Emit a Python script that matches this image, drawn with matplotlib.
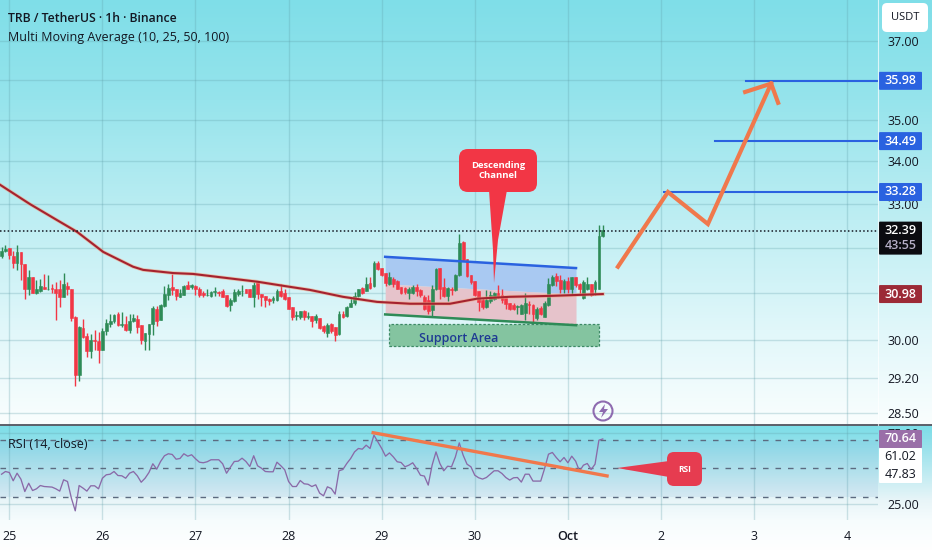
import numpy as np
import matplotlib
matplotlib.use("Agg")
import matplotlib.pyplot as plt
from matplotlib.patches import FancyBboxPatch, Polygon, Circle, Rectangle
from matplotlib.ticker import NullLocator, NullFormatter

plt.rcParams["font.family"] = ["Open Sans", "DejaVu Sans"]

# hourly candles, first one two hours before midnight of the 25th
first_hour = -2
candle_open = [
    31.81, 31.92, 31.99, 31.82, 31.66, 31.90, 31.64, 31.09, 31.35, 31.00, 31.05, 31.14, 31.08,
    31.11, 31.09, 31.10, 30.91, 31.16, 31.09, 30.48, 29.27, 30.26, 30.08, 29.76, 29.99, 29.97,
    29.79, 30.19, 30.34, 30.39, 30.54, 30.32, 30.34, 30.21, 30.39, 30.45, 30.32, 29.97, 30.13,
    30.34, 30.66, 30.43, 30.72, 30.95, 31.14, 31.09, 30.92, 30.97, 31.18, 31.14, 31.16, 31.10,
    31.00, 30.95, 30.94, 31.02, 31.02, 31.05, 30.95, 30.74, 30.82, 30.98, 31.04, 31.10, 31.08,
    30.91, 31.25, 30.98, 30.94, 30.88, 30.85, 30.85, 31.05, 31.01, 30.91, 30.70, 30.50, 30.48,
    30.62, 30.48, 30.51, 30.43, 30.46, 30.29, 30.15, 30.34, 30.28, 30.13, 30.55, 30.50, 30.70,
    30.78, 30.94, 31.12, 31.05, 31.23, 31.15, 31.67, 31.56, 31.44, 31.21, 31.30, 31.27, 31.14,
    31.12, 31.01, 31.01, 31.14, 31.07, 30.91, 30.85, 30.64, 31.10, 31.55, 31.14, 30.94, 31.10,
    31.07, 31.40, 32.14, 31.75, 31.39, 31.27, 31.05, 30.85, 30.70, 30.82, 30.87, 31.01, 30.96,
    30.89, 30.78, 30.75, 30.70, 30.56, 30.58, 30.77, 30.74, 30.46, 30.68, 30.49, 30.74, 31.18,
    31.38, 31.29, 31.10, 31.27, 31.08, 31.35, 31.20, 30.89, 31.08, 31.20, 31.10, 31.10, 32.26,
]
candle_high = [
    32.02, 32.07, 31.99, 31.92, 32.07, 31.90, 31.64, 31.51, 31.35, 31.29, 31.30, 31.42, 31.40,
    31.21, 31.25, 31.29, 31.45, 31.24, 31.09, 30.50, 30.29, 30.45, 30.14, 30.13, 30.20, 30.16,
    30.25, 30.45, 30.56, 30.55, 30.60, 30.60, 30.50, 30.54, 30.56, 30.52, 30.32, 30.14, 30.34,
    30.72, 30.72, 30.77, 31.15, 31.20, 31.42, 31.09, 31.10, 31.18, 31.26, 31.20, 31.18, 31.14,
    31.05, 31.10, 31.05, 31.14, 31.04, 31.10, 30.95, 30.89, 31.08, 31.08, 31.18, 31.10, 31.08,
    31.25, 31.27, 30.98, 30.94, 30.89, 30.94, 31.08, 31.21, 31.10, 30.91, 30.70, 30.62, 30.62,
    30.64, 30.60, 30.51, 30.55, 30.46, 30.32, 30.35, 30.35, 30.28, 30.62, 30.62, 30.72, 30.89,
    31.03, 31.10, 31.14, 31.35, 31.35, 31.70, 31.70, 31.56, 31.45, 31.47, 31.36, 31.29, 31.14,
    31.14, 31.14, 31.18, 31.21, 31.10, 30.96, 30.96, 31.18, 31.55, 31.56, 31.33, 31.14, 31.14,
    31.42, 32.32, 32.15, 31.75, 31.40, 31.27, 31.05, 30.89, 31.07, 31.05, 31.03, 31.18, 31.10,
    30.89, 30.79, 30.78, 30.75, 30.77, 31.00, 30.82, 30.77, 30.70, 30.72, 30.82, 31.33, 31.40,
    31.44, 31.40, 31.30, 31.36, 31.36, 31.36, 31.23, 31.29, 31.35, 31.20, 31.29, 32.52, 32.52,
]
candle_low = [
    31.78, 31.90, 31.75, 31.55, 31.51, 31.29, 30.87, 30.96, 31.00, 30.98, 31.03, 31.08, 31.07,
    31.01, 30.43, 30.70, 30.91, 30.96, 30.40, 29.04, 29.15, 30.04, 29.65, 29.63, 29.78, 29.51,
    29.78, 30.10, 30.28, 30.36, 30.29, 30.28, 30.19, 30.15, 30.37, 30.15, 29.91, 29.79, 29.79,
    30.10, 30.29, 30.42, 30.71, 30.85, 30.96, 30.85, 30.91, 30.96, 31.08, 31.08, 30.96, 30.91,
    30.91, 30.93, 30.92, 30.94, 30.94, 30.91, 30.71, 30.62, 30.81, 30.94, 30.94, 31.01, 30.91,
    30.71, 30.87, 30.72, 30.71, 30.74, 30.78, 30.83, 30.91, 30.85, 30.65, 30.42, 30.43, 30.45,
    30.43, 30.45, 30.28, 30.35, 30.23, 30.15, 30.07, 30.14, 29.97, 30.10, 30.46, 30.49, 30.70,
    30.74, 30.91, 30.98, 31.04, 31.10, 31.14, 31.51, 31.38, 31.15, 31.18, 31.14, 31.09, 30.98,
    30.98, 30.87, 30.98, 30.94, 30.91, 30.64, 30.56, 30.50, 31.07, 30.87, 30.92, 30.84, 30.96,
    31.05, 31.38, 31.72, 31.36, 31.21, 30.94, 30.62, 30.65, 30.68, 30.78, 30.85, 30.89, 30.78,
    30.65, 30.64, 30.64, 30.55, 30.54, 30.43, 30.55, 30.20, 30.43, 30.53, 30.48, 30.72, 31.15,
    31.15, 31.00, 31.00, 31.00, 30.96, 31.14, 30.96, 30.87, 31.07, 30.94, 30.96, 31.08, 32.24,
]
candle_close = [
    31.94, 31.98, 31.83, 31.66, 31.90, 31.64, 31.09, 31.35, 31.00, 31.08, 31.16, 31.08, 31.09,
    31.10, 31.00, 30.92, 31.19, 31.10, 30.46, 29.27, 30.28, 30.05, 29.76, 29.99, 29.97, 29.79,
    30.19, 30.36, 30.41, 30.53, 30.31, 30.34, 30.21, 30.41, 30.46, 30.28, 29.99, 30.14, 30.34,
    30.68, 30.41, 30.74, 30.98, 31.11, 31.07, 30.94, 31.00, 31.16, 31.10, 31.17, 31.08, 30.96,
    30.97, 30.96, 31.03, 31.04, 31.00, 30.92, 30.73, 30.85, 31.03, 31.04, 31.05, 31.01, 30.91,
    31.18, 30.98, 30.92, 30.85, 30.84, 30.89, 31.05, 30.94, 30.87, 30.66, 30.49, 30.52, 30.62,
    30.49, 30.51, 30.41, 30.50, 30.25, 30.18, 30.32, 30.18, 30.10, 30.55, 30.49, 30.70, 30.78,
    30.94, 31.09, 31.00, 31.21, 31.12, 31.66, 31.52, 31.40, 31.23, 31.35, 31.21, 31.10, 31.00,
    31.03, 31.10, 31.14, 31.05, 30.96, 30.65, 30.62, 31.10, 31.52, 31.10, 30.94, 31.12, 31.07,
    31.40, 32.12, 31.73, 31.38, 31.25, 30.96, 30.80, 30.71, 30.85, 30.96, 31.01, 30.91, 30.85,
    30.77, 30.65, 30.65, 30.72, 30.74, 30.78, 30.74, 30.56, 30.65, 30.55, 30.79, 31.21, 31.36,
    31.27, 31.10, 31.26, 31.08, 31.35, 31.18, 31.10, 31.25, 31.21, 30.96, 31.25, 32.26, 32.41,
]

# slow moving average, read at a few hours
ma_hours = [-2.4, 5.3, 12.3, 17.5, 24.2, 31.9, 34.5, 42.2, 47.4, 56.1, 63.9, 70.6, 77.5, 86,
            94.8, 103.3, 113.6, 120.6, 129, 139.4, 146.4, 153]
ma_values = [33.45, 33.00, 32.63, 32.36, 31.91, 31.58, 31.51, 31.44, 31.42, 31.33, 31.25, 31.16,
             31.07, 30.92, 30.81, 30.77, 30.77, 30.88, 30.92, 30.94, 30.96, 30.98]

rsi_values = [
    46.0, 47.9, 47.2, 41.4, 46.7, 42.5, 33.9, 39.7, 34.6, 35.8, 38.1, 37.4, 37.2, 37.0, 35.8, 34.2,
    42.1, 40.9, 29.3, 20.4, 38.1, 36.3, 34.2, 37.9, 37.9, 35.8, 43.2, 45.6, 46.0, 47.9, 45.1, 44.9,
    43.2, 46.7, 47.9, 44.9, 40.4, 43.2, 47.2, 53.3, 49.5, 54.9, 58.9, 60.3, 59.8, 56.5, 57.0, 60.3,
    58.6, 59.6, 56.8, 54.4, 54.0, 54.7, 56.1, 56.1, 56.1, 53.3, 46.7, 50.9, 54.9, 55.1, 57.2, 54.9,
    51.4, 58.9, 51.9, 50.2, 47.9, 47.7, 47.7, 54.4, 51.9, 49.1, 40.9, 37.4, 37.4, 41.6, 39.3, 39.0,
    37.4, 38.6, 32.8, 30.9, 37.2, 36.0, 32.1, 48.4, 49.3, 53.5, 57.0, 61.6, 64.0, 63.5, 66.3, 64.0,
    73.3, 68.6, 64.0, 58.6, 60.9, 58.1, 54.7, 54.2, 51.2, 52.3, 54.0, 50.0, 45.3, 44.7, 38.4, 52.3,
    61.6, 53.5, 48.4, 51.6, 51.2, 58.1, 67.9, 59.3, 53.0, 51.2, 45.3, 43.5, 42.6, 43.7, 46.0, 48.4,
    48.4, 46.5, 43.7, 41.9, 43.5, 43.7, 40.5, 46.0, 46.0, 41.2, 41.2, 41.2, 50.0, 60.0, 61.2, 57.7,
    54.7, 57.7, 54.0, 58.6, 55.1, 48.1, 52.3, 53.5, 49.3, 53.0, 69.8, 70.64,
]

day_labels = ["25", "26", "27", "28", "29", "30", "Oct", "2", "3", "4"]
price_ticks = [37, 36, 35, 34, 33, 32, 31, 30, 29.2, 28.5]
hidden_price_ticks = [36, 32, 31]  # covered by the tags

target_prices = [35.98, 34.49, 33.28]
target_starts = [189.9, 181.9, 168.8]
last_price = 32.39
ma_last = 30.98

# channel and drawings, as (hour, price)
channel_hours = [96.9, 146.1]
channel_top = [31.80, 31.55]
channel_mid = [31.20, 30.98]
channel_bottom = [30.54, 30.31]
support_hours = [97.9, 152.0]
support_prices = [29.87, 30.34]
path_hours = [156.9, 169.8, 180.1, 196.4]
path_prices = [31.58, 33.28, 32.54, 35.91]
head_hours = [189.7, 196.4, 198.2]
head_prices = [35.70, 35.91, 35.43]
rsi_trend_hours = [93.8, 154.1]
rsi_trend_values = [75.0, 44.8]

W, H = 932, 550
PANE_R, MAIN_B, RSI_B = 878, 425, 520
UP, DOWN = "#2e8b57", "#f23645"
GRID = "#5f9ea8"
ORANGE = "#f0784c"
BLUE = "#2a62e0"
INK = "#131722"

fig = plt.figure(figsize=(W / 100, H / 100), dpi=100)


def pane(top, bottom, zorder=1):
    ax = fig.add_axes([0, 1 - bottom / H, PANE_R / W, (bottom - top) / H], zorder=zorder)
    ax.patch.set_alpha(0)
    for s in ax.spines.values():
        s.set_visible(False)
    return ax


# background over the whole picture
bg = fig.add_axes([0, 0, 1, 1], zorder=0)
rows = np.arange(H)
stops_y = [0, 100, 220, 330, 424, 426, 445, 500, 520, 550]
stops_c = np.array([
    (127, 222, 232), (150, 228, 236), (190, 238, 243), (225, 247, 250), (250, 254, 254),
    (125, 222, 232), (150, 225, 235), (232, 245, 248), (246, 252, 253), (255, 255, 255),
]) / 255
grad = np.stack([np.interp(rows, stops_y, stops_c[:, i]) for i in range(3)], axis=1)
bg.imshow(grad[:, None, :], aspect="auto", extent=(0, W, H, 0))
bg.axis("off")

# price pane
hours = first_hour + np.arange(len(candle_open))
opens, highs = np.array(candle_open), np.array(candle_high)
lows, closes = np.array(candle_low), np.array(candle_close)
colors = [UP if c >= o else DOWN for o, c in zip(opens, closes)]

ax = pane(0, MAIN_B)
ax.set_yscale("log")
ax.set_xlim(-2.4, 223.95)
ax.set_ylim(28.26, 38.08)
day_ticks = np.arange(len(day_labels)) * 24
ax.set_xticks(day_ticks)
ax.tick_params(axis="x", length=0, labelbottom=False)
ax.yaxis.set_minor_locator(NullLocator())
ax.yaxis.set_minor_formatter(NullFormatter())
ax.set_yticks(price_ticks)
ax.set_yticklabels(["" if p in hidden_price_ticks else f"{p:.2f}" for p in price_ticks])
ax.yaxis.tick_right()
ax.tick_params(axis="y", length=0, pad=7, labelsize=9, labelcolor=INK)
ax.grid(True, color=GRID, alpha=0.28, lw=1)
ax.set_axisbelow(True)

ax.fill_between(channel_hours, channel_mid, channel_top, color="#a9c9f2", lw=0, zorder=1.5)
ax.fill_between(channel_hours, channel_bottom, channel_mid, color="#e6c3cb", lw=0, zorder=1.5)
ax.plot(channel_hours, channel_top, color=BLUE, lw=1.8, zorder=4)
ax.plot(channel_hours, channel_bottom, color="#2e8b57", lw=1.8, zorder=4)

ax.vlines(hours, lows, highs, colors=colors, lw=1, zorder=2)
ax.bar(hours, np.abs(closes - opens), bottom=np.minimum(opens, closes), width=0.72,
       color=colors, edgecolor=colors, lw=0.4, zorder=2.2)

ax.plot(ma_hours, ma_values, color="#f2a27e", lw=2.6, alpha=0.6, zorder=2.6)
ax.plot(ma_hours, ma_values, color="#a5222f", lw=1.5, zorder=2.7)

ax.axhline(last_price, color=INK, lw=1.1, ls=(0, (1, 1.5)), zorder=3)
for price, start in zip(target_prices, target_starts):
    ax.plot([start, 223.95], [price, price], color=BLUE, lw=1.5, zorder=4)

ax.add_patch(Rectangle((support_hours[0], support_prices[0]), support_hours[1] - support_hours[0],
                       support_prices[1] - support_prices[0], facecolor="#84c4a0",
                       edgecolor="#3d8a66", lw=0.9, ls=(0, (2, 1.5)), zorder=3))
ax.text(sum(support_hours) / 2 - 9, 30.02, "Support Area", color="#1f3a93", fontsize=9,
        fontweight="semibold", ha="center", va="center", zorder=5)

ax.plot(path_hours, path_prices, color=ORANGE, lw=3, solid_joinstyle="miter", zorder=4)
ax.plot(head_hours, head_prices, color=ORANGE, lw=3, solid_joinstyle="miter", zorder=4)

# rsi pane
rsi = pane(MAIN_B, RSI_B)
rsi.set_xlim(ax.get_xlim())
rsi.set_ylim(14.0, 80.4)
rsi.axhspan(30, 70, color="#4f7fc0", alpha=0.09, lw=0)
for level in (70, 50, 30):
    rsi.axhline(level, color="#5c6b80", lw=1, ls=(0, (4, 5)), zorder=2)
rsi.plot(hours, rsi_values, color="#8a6aa8", lw=0.95, zorder=3)
rsi.plot(rsi_trend_hours, rsi_trend_values, color=ORANGE, lw=2.4, zorder=4)
rsi.set_xticks(day_ticks)
rsi.set_xticklabels(day_labels, fontsize=9, color=INK)
for tick_label, day in zip(rsi.get_xticklabels(), day_labels):
    if day == "Oct":
        tick_label.set_fontweight("semibold")
rsi.set_yticks([75, 25])
rsi.set_yticklabels(["75.00", "25.00"])
rsi.yaxis.tick_right()
rsi.tick_params(axis="y", length=0, pad=7, labelsize=9, labelcolor=INK)
rsi.tick_params(axis="x", length=0, pad=7)
rsi.grid(True, color=GRID, alpha=0.28, lw=1)
rsi.set_axisbelow(True)

# pixel overlay for tags and callouts
top = fig.add_axes([0, 0, 1, 1], zorder=3)
top.set_xlim(0, W)
top.set_ylim(H, 0)
top.axis("off")
top.plot([0, W], [MAIN_B, MAIN_B], color="#50535e", lw=1.3)
top.plot([PANE_R, PANE_R], [0, MAIN_B], color="#ffffff", lw=0.8, alpha=0.7)


def round_box(x0, y0, x1, y1, color, radius=2):
    top.add_patch(FancyBboxPatch((x0 + radius, y0 + radius), x1 - x0 - 2 * radius, y1 - y0 - 2 * radius,
                                 boxstyle=f"round,pad={radius},rounding_size={radius}",
                                 facecolor=color, edgecolor="none", mutation_aspect=1))


def tag(value, color, text_color="white", y=None):
    if y is None:
        y = H - ax.transData.transform((0, value))[1]
    round_box(879, y - 9, 922, y + 9, color, radius=1)
    top.text(900.5, y, f"{value:.2f}", color=text_color, fontsize=9, fontweight="semibold",
             ha="center", va="center")


for price in target_prices:
    tag(price, BLUE)
tag(ma_last, "#9c2a36")

last_y = H - ax.transData.transform((0, last_price))[1]
round_box(879, last_y - 9, 922, last_y + 24, "#0b0b10", radius=1)
top.text(900.5, last_y, f"{last_price:.2f}", color="white", fontsize=9, fontweight="semibold",
         ha="center", va="center")
top.text(900.5, last_y + 15, "43:55", color="#b7b0c8", fontsize=9, fontweight="semibold",
         ha="center", va="center")

round_box(879, 448, 922, 483, "white", radius=1)
top.text(900.5, 457, "61.02", color=INK, fontsize=9, ha="center", va="center")
top.text(900.5, 475, "47.83", color=INK, fontsize=9, ha="center", va="center")
tag(rsi_values[-1], "#9a6fa8", y=439)

round_box(882, 3, 928, 32, "white", radius=5)
top.text(905, 18, "USDT", color=INK, fontsize=8, ha="center", va="center")

top.text(8, 18, "TRB / TetherUS · 1h · Binance", color=INK, fontsize=8.8, fontweight="semibold",
         va="center")
top.text(8, 37, "Multi Moving Average (10, 25, 50, 100)", color=INK, fontsize=9, va="center")
top.text(8, 444, "RSI (14, close)", color=INK, fontsize=9, va="center")

# callouts
round_box(459, 149, 537, 192, DOWN, radius=9)
top.add_patch(Polygon([(489, 190), (493, 250), (494, 283), (498, 240), (507, 190)],
                      facecolor=DOWN, edgecolor="none"))
top.text(498, 170.5, "Descending\nChannel", color="white", fontsize=6.8, fontweight="bold",
         ha="center", va="center", linespacing=1.1)

round_box(667, 452, 702, 486, "#e63c50", radius=7)
top.add_patch(Polygon([(669, 461), (617, 468), (669, 477)], facecolor="#e63c50", edgecolor="none"))
top.text(685, 469, "RSI", color="white", fontsize=6, fontweight="bold", ha="center", va="center")

# news badge
top.add_patch(Circle((603, 411), 9.5, facecolor="none", edgecolor="#8e6bb0", lw=1.5))
top.add_patch(Polygon([(605, 404), (599, 412), (603, 412), (601, 418), (608, 409), (604, 409)],
                      facecolor="#8e6bb0", edgecolor="none"))

fig.savefig("out.png", dpi=100)
